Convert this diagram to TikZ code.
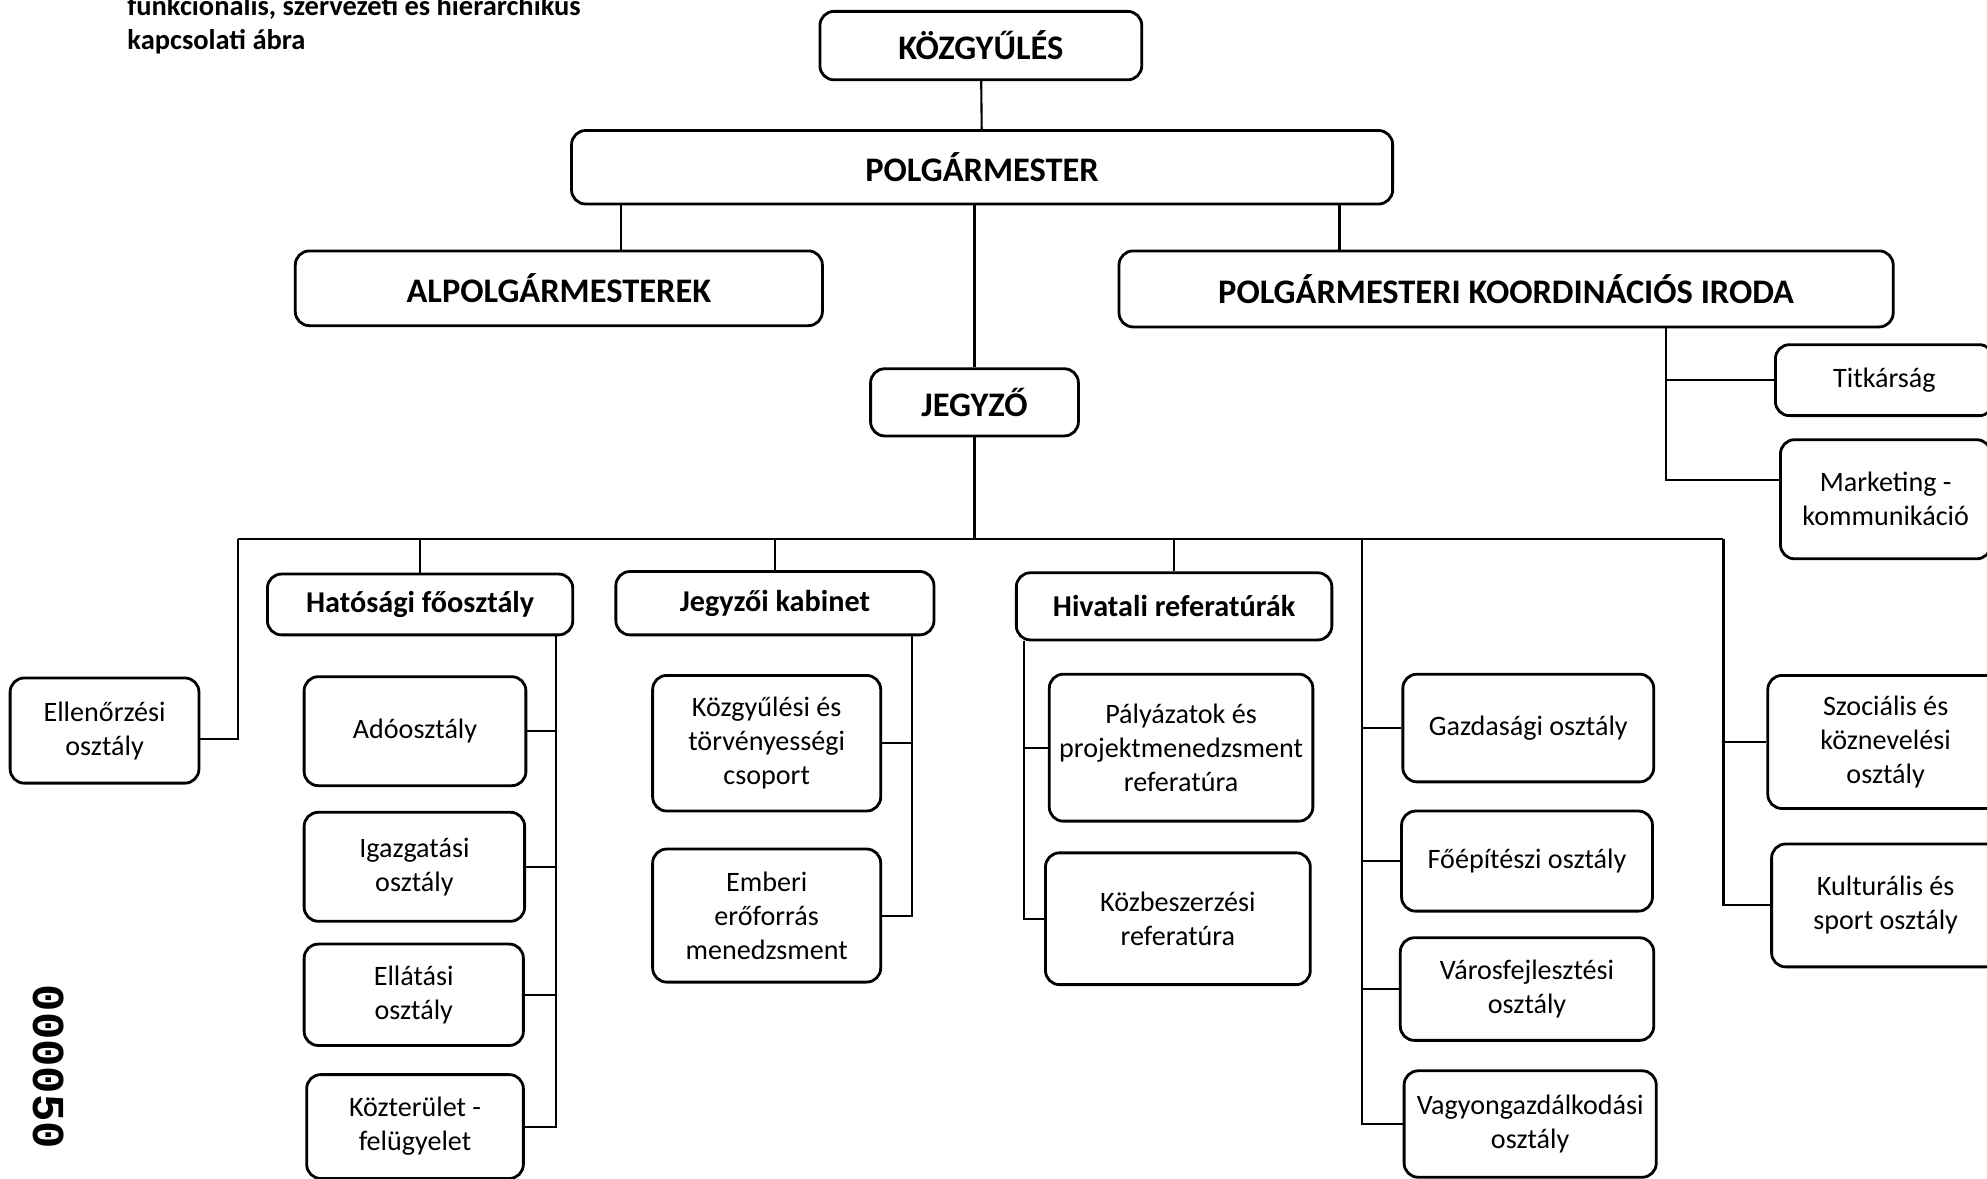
\documentclass[tikz,border=0pt]{standalone}
\usepackage{fontspec}
\setmainfont{Carlito}
\newfontfamily\stampfont{Liberation Mono}
\def\px{0.36052pt}
\tikzset{
	orgbox/.style={draw, line width=0.8pt, rounded corners=4pt, align=center, inner sep=1pt, font=\fontsize{8}{9.7}\selectfont},
	headbox/.style={orgbox, font=\bfseries\fontsize{9.8}{11.8}\selectfont},
	subbox/.style={orgbox, font=\bfseries\fontsize{8.6}{10.3}\selectfont},
	sized/.style 2 args={minimum width=#1*\px, minimum height=#2*\px},
	link/.style={line width=0.6pt}
}

\begin{document}
\begin{tikzpicture}[x=0.12672mm, y=-0.12672mm]
			%%%%% START %%%%%
			\useasboundingbox (0,0) rectangle (1568,930);
			
			\node[anchor=base west, align=left, inner sep=0pt, font=\bfseries\fontsize{8.1}{9.7}\selectfont] (title) at (100,39) {funkcionális, szervezeti és hierarchikus\\kapcsolati ábra};
			\node[rotate=-90, font=\stampfont\bfseries\fontsize{13}{13}\selectfont] (stamp) at (38,842) {000050};
			
			\node[headbox, sized={254}{54}] (kozgy) at (774,36) {KÖZGYŰLÉS};
			\node[headbox, sized={648}{58}] (polg) at (775,132) {POLGÁRMESTER};
			\node[headbox, sized={416}{59}] (alpolg) at (441,227.5) {ALPOLGÁRMESTEREK};
			\node[headbox, sized={611}{60}] (pki) at (1188.5,228) {POLGÁRMESTERI KOORDINÁCIÓS IRODA};
			\node[orgbox, sized={172}{56}] (titk) at (1487,300) {Titkárság};
			\node[orgbox, sized={166}{94}] (mark) at (1488,394) {Marketing -\\kommunikáció};
			\node[headbox, sized={164}{53}] (jegyzo) at (769,317.5) {JEGYZŐ};
			
			\draw[link] (kozgy) -- (polg);
			\draw[link] (polg.south -| 490,0) -- (alpolg.north -| 490,0);
			\draw[link] (polg.south -| 1057,0) -- (pki.north -| 1057,0);
			\draw[link] (polg.south -| jegyzo.north) -- (jegyzo.north);
			\draw[link] (pki.south -| 1315,0) |- (mark.west |- 0,379);
			\draw[link] (titk.west) -- (titk.west -| 1315,0);
			
			%% bus under the jegyzo
			\coordinate (busW) at (188,425);
			\coordinate (busG) at (1075,425);
			\coordinate (busE) at (1360,425);
			\draw[link] (busW) -- (busE);
			\draw[link] (jegyzo.south) -- (jegyzo.south |- busW);
			
			\node[orgbox, sized={149}{83}] (ellen) at (82.5,576.5) {Ellenőrzési\\osztály};
			\draw[link] (busW) |- (ellen.east |- 0,583);
			
			\node[subbox, sized={241}{48}] (hatosagi) at (331.5,477) {Hatósági főosztály};
			\node[orgbox, sized={175}{86}] (ado) at (327.5,577) {Adóosztály};
			\node[orgbox, sized={174}{86}] (igazg) at (327,684) {Igazgatási\\osztály};
			\node[orgbox, sized={173}{80}] (ellatas) at (326.5,785) {Ellátási\\osztály};
			\node[orgbox, sized={171}{82}] (kozter) at (327.5,889) {Közterület -\\felügyelet};
			\draw[link] (hatosagi.north) -- (hatosagi.north |- busW);
			\draw[link] (hatosagi.south -| 439,0) |- (kozter.east);
			\foreach \n in {ado,igazg,ellatas}
				\draw[link] (\n.east) -- (\n.east -| 439,0);
			
			\node[subbox, sized={251}{50}] (jkab) at (611.5,476) {Jegyzői kabinet};
			\node[orgbox, sized={180}{107}] (kozgyc) at (605,586.5) {Közgyűlési és\\törvényességi\\csoport};
			\node[orgbox, sized={180}{105}] (emberi) at (605,722.5) {Emberi\\erőforrás\\menedzsment};
			\draw[link] (jkab.north) -- (jkab.north |- busW);
			\draw[link] (jkab.south -| 720,0) |- (emberi.east);
			\draw[link] (kozgyc.east) -- (kozgyc.east -| 720,0);
			
			\node[subbox, sized={249}{53}] (hivatali) at (926.5,478.5) {Hivatali referatúrák};
			\node[orgbox, sized={208}{116}] (palyaz) at (932,590) {Pályázatok és\\projektmenedzsment\\referatúra};
			\node[orgbox, sized={209}{104}] (kozbesz) at (929.5,725) {Közbeszerzési\\referatúra};
			\draw[link] (hivatali.north) -- (hivatali.north |- busW);
			\draw[link] (hivatali.south -| 808,0) |- (kozbesz.west);
			\draw[link] (palyaz.west) -- (palyaz.west -| 808,0);
			
			\node[orgbox, sized={198}{85}] (gazd) at (1206,574.5) {Gazdasági osztály};
			\node[orgbox, sized={198}{79}] (foep) at (1205,679.5) {Főépítészi osztály};
			\node[orgbox, sized={200}{81}] (varos) at (1205,780.5) {Városfejlesztési\\osztály};
			\node[orgbox, sized={199}{84}] (vagyon) at (1207.5,887) {Vagyongazdálkodási\\osztály};
			\draw[link] (busG) |- (vagyon.west);
			\foreach \n in {gazd,foep,varos}
				\draw[link] (\n.west) -- (\n.west -| busG);
			
			\node[orgbox, sized={186}{105}] (szoc) at (1488,585.5) {Szociális és\\köznevelési\\osztály};
			\node[orgbox, sized={180}{97}] (kultur) at (1488,714.5) {Kulturális és\\sport osztály};
			\draw[link] (busE) |- (kultur.west);
			\draw[link] (szoc.west) -- (szoc.west -| busE);
			
			%%%%% END %%%%%
\end{tikzpicture}
\end{document}
